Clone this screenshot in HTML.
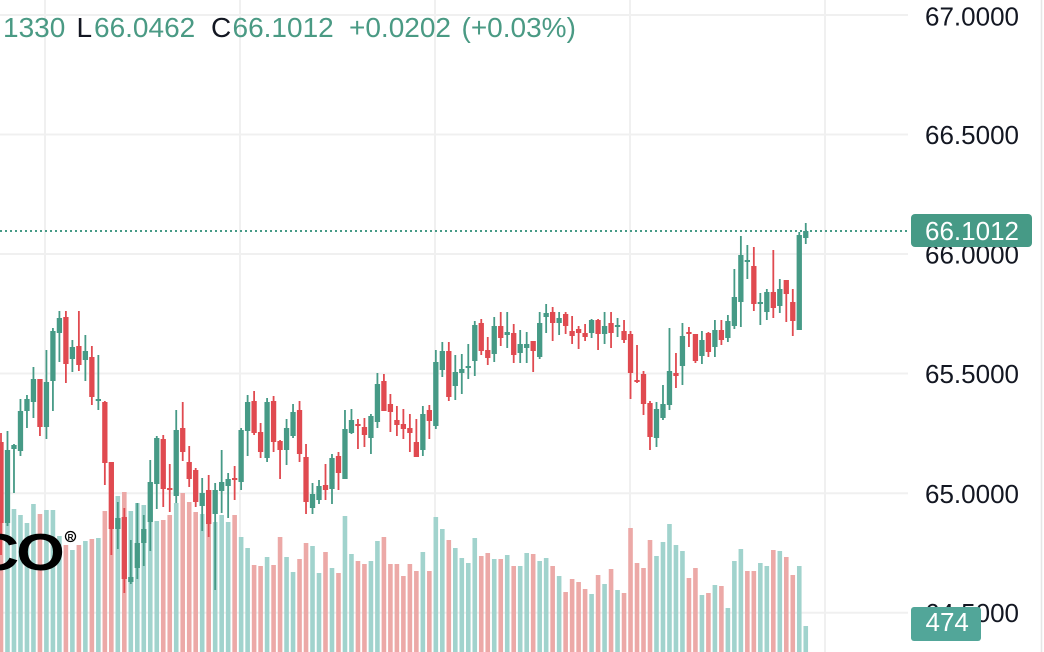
<!DOCTYPE html>
<html>
<head>
<meta charset="utf-8">
<style>
  html,body{margin:0;padding:0;background:#fff;}
  body{width:1044px;height:652px;overflow:hidden;}
  svg{display:block;}
  text{font-family:"Liberation Sans",Arial,sans-serif;}
</style>
</head>
<body>
<svg width="1044" height="652" viewBox="0 0 1044 652" xmlns="http://www.w3.org/2000/svg">
  <rect x="0" y="0" width="1044" height="652" fill="#ffffff"/>

  <!-- grid -->
  <g stroke="#f0f0f0" stroke-width="2">
    <path d="M45 0V652M240 0V652M435 0V652M630 0V652M825 0V652"/>
    <path d="M0 15H908M0 134.5H908M0 254H908M0 373.5H908M0 493.3H908M0 612.7H908"/>
  </g>
  <!-- axis border -->
  <path d="M1041.5 0V652" stroke="#e6e6e6" stroke-width="1.5"/>

  <!-- volume -->
  <path fill="none" stroke="#a1d3cd" stroke-width="4.6" d="M7.49 503V652M13.98 509V652M20.47 515V652M26.96 523V652M33.45 504V652M46.43 510V652M52.92 510V652M59.41 536V652M72.39 550V652M85.37 541V652M98.35 538V652M117.82 496V652M130.8 511V652M137.29 503V652M143.78 505V652M150.27 515V652M156.76 521V652M176.23 503V652M202.19 514V652M215.17 522V652M221.66 515V652M228.15 522V652M241.13 537V652M247.62 548V652M267.09 557V652M286.56 557V652M293.05 572V652M312.52 546V652M319.01 573V652M331.99 568V652M344.97 516V652M351.46 554V652M370.93 561V652M377.42 541V652M422.85 552V652M435.83 517V652M442.32 529V652M455.3 548V652M461.79 558V652M468.28 563V652M474.77 538V652M494.24 559V652M507.22 555V652M520.2 566V652M526.69 553V652M539.67 561V652M546.16 558V652M559.14 576V652M591.59 594V652M604.57 584V652M617.55 590V652M656.49 556V652M662.98 542V652M669.47 524V652M675.96 545V652M682.45 551V652M701.92 595V652M714.9 585V652M727.88 608V652M734.37 561V652M740.86 549V652M760.33 563V652M766.82 566V652M779.8 551V652M799.27 566V652M805.76 626V652"/>
  <path fill="none" stroke="#eca9a7" stroke-width="4.6" d="M1 512V652M39.94 514V652M65.9 545V652M78.88 545V652M91.86 539V652M104.84 511V652M111.33 500V652M124.31 492V652M163.25 520V652M169.74 515V652M182.72 493V652M189.21 502V652M195.7 512V652M208.68 523V652M234.64 515V652M254.11 565V652M260.6 566V652M273.58 565V652M280.07 537V652M299.54 559V652M306.03 543V652M325.5 552V652M338.48 573V652M357.95 561V652M364.44 564V652M383.91 537V652M390.4 564V652M396.89 564V652M403.38 576V652M409.87 564V652M416.36 571V652M429.34 571V652M448.81 540V652M481.26 556V652M487.75 553V652M500.73 559V652M513.71 566V652M533.18 554V652M552.65 566V652M565.63 592V652M572.12 579V652M578.61 582V652M585.1 589V652M598.08 575V652M611.06 569V652M624.04 593V652M630.53 528V652M637.02 563V652M643.51 568V652M650 540V652M688.94 578V652M695.43 568V652M708.41 593V652M721.39 586V652M747.35 571V652M753.84 571V652M773.31 550V652M786.29 557V652M792.78 575V652"/>

  <!-- last price dotted line -->
  <path d="M0 231H908" stroke="#469a86" stroke-width="2" stroke-dasharray="2 3"/>

  <!-- candles green -->
  <path fill="none" stroke="#469a86" stroke-width="1.8" d="M7.49 431V526M13.98 444V493M20.47 399V456M26.96 395V428M33.45 367V418M46.43 350V439M52.92 328V411M59.41 311V362M72.39 340V372M85.37 335V381M98.35 355V410M117.82 502V549M130.8 540V584M137.29 503V579M143.78 515V566M150.27 460V551M156.76 436V509M176.23 410V503M202.19 478V531M215.17 483V590M221.66 450V513M228.15 473V518M241.13 428V490M247.62 395V456M267.09 398V462M286.56 419V465M293.05 404V438M312.52 483V514M319.01 480V504M331.99 454V504M344.97 410V479M351.46 409V434M370.93 414V454M377.42 373V428M422.85 406V456M435.83 350V429M442.32 342V377M455.3 355V400M461.79 354V394M468.28 344V379M474.77 321V376M494.24 317V362M507.22 312V348M520.2 330V363M526.69 332V363M539.67 312V359M546.16 304V333M559.14 312V335M591.59 319V338M604.57 312V344M617.55 318V337M656.49 402V447M662.98 385V420M669.47 328V410M682.45 323V385M701.92 331V364M714.9 320V357M727.88 315V342M734.37 269V329M740.86 236V327M747.35 245V279M760.33 293V325M766.82 289V320M779.8 279V313M799.27 232V330M805.76 223V244"/>
  <path fill="none" stroke="#469a86" stroke-width="5.3" d="M7.49 450V523M13.98 445V449M20.47 411V451M26.96 399V411M33.45 379V402M46.43 382V427M52.92 331V381M59.41 318V333M72.39 347V359M85.37 351V360M98.35 399V401M117.82 518V529M130.8 577V582M137.29 543V568M143.78 529V543M150.27 482V522M156.76 438V484M176.23 430V496M202.19 493V506M215.17 490V514M221.66 482V491M228.15 479V486M241.13 430V482M247.62 402V431M267.09 402V458M286.56 428V450M293.05 412V436M312.52 494V508M319.01 486V500M331.99 458V489M344.97 429V479M351.46 420V433M370.93 416V438M377.42 384V422M422.85 414V450M435.83 362V426M442.32 351V370M455.3 372V386M461.79 369V373M468.28 366V368M474.77 325V361M494.24 326V354M507.22 332V335M520.2 344V353M526.69 344V348M539.67 323V357M546.16 313V317M559.14 318V323M591.59 320V333M604.57 326V334M617.55 325V327M656.49 409V438M662.98 404V418M669.47 371V405M682.45 336V366M701.92 340V356M714.9 330V347M727.88 321V338M734.37 297V326M740.86 255V302M747.35 260V262M760.33 302V304M766.82 292V312M779.8 289V306M799.27 235V330M805.76 231V238"/>

  <!-- candles red -->
  <path fill="none" stroke="#e04a50" stroke-width="1.8" d="M1 433V555M39.94 379V436M65.9 311V383M78.88 311V371M91.86 346V405M104.84 401V485M111.33 462V555M124.31 508V593M163.25 435V507M169.74 464V512M182.72 402V461M189.21 446V487M195.7 468V507M208.68 475V537M234.64 466V500M254.11 391V435M260.6 423V458M273.58 396V452M280.07 440V479M299.54 401V462M306.03 444V514M325.5 464V500M338.48 452V490M357.95 419V449M364.44 418V447M383.91 374V411M390.4 394V432M396.89 406V436M403.38 409V439M409.87 414V452M416.36 419V457M429.34 405V439M448.81 342V401M481.26 319V355M487.75 337V365M500.73 312V346M513.71 324V363M533.18 341V372M552.65 307V341M565.63 312V334M572.12 316V344M578.61 326V349M585.1 324V341M598.08 319V350M611.06 312V348M624.04 320V343M630.53 331V399M637.02 345V383M643.51 371V415M650 401V450M675.96 353V388M688.94 327V347M695.43 334V363M708.41 332V357M721.39 320V345M753.84 247V311M773.31 250V318M786.29 280V322M792.78 289V336"/>
  <path fill="none" stroke="#e04a50" stroke-width="5.3" d="M1 442V523M39.94 379V427M65.9 317V364M78.88 346V365M91.86 357V397M104.84 402V463M111.33 462V529M124.31 517V579M163.25 439V489M169.74 488V490M182.72 428V452M189.21 462V479M195.7 470V502M208.68 490V524M234.64 478V480M254.11 401V433M260.6 432V452M273.58 401V442M280.07 441V450M299.54 410V454M306.03 457V502M325.5 485V490M338.48 456V473M357.95 424V426M364.44 427V435M383.91 381V411M390.4 404V412M396.89 420V425M403.38 424V429M409.87 428V433M416.36 442V457M429.34 410V421M448.81 351V397M481.26 323V351M487.75 350V358M500.73 326V338M513.71 333V355M533.18 341V351M552.65 312V323M565.63 314V326M572.12 331V336M578.61 329V333M585.1 333V337M598.08 320V334M611.06 323V333M624.04 331V340M630.53 334V373M637.02 380V382M643.51 374V404M650 403V437M675.96 373V376M688.94 332V334M695.43 334V361M708.41 333V352M721.39 330V340M753.84 266V304M773.31 292V308M786.29 280V294M792.78 302V321"/>

  <!-- logo -->
  <g fill="#000000" font-weight="bold" font-size="52">
    <text transform="translate(-26,570) scale(1.2,1)">C</text>
    <text transform="translate(16.2,570) scale(1.2,1)">O</text>
  </g>
  <circle cx="70.5" cy="536.5" r="5" fill="#ffffff" stroke="#000" stroke-width="1.3"/>
  <text x="67.6" y="540" font-size="8" font-weight="bold" fill="#000">R</text>

  <!-- header legend -->
  <g font-size="28">
    <text x="3" y="37" fill="#4a9a84">1330</text>
    <text x="76.5" y="37" fill="#131722">L</text>
    <text x="94" y="37" fill="#4a9a84">66.0462</text>
    <text x="211" y="37" fill="#131722">C</text>
    <text x="232.5" y="37" fill="#4a9a84">66.1012</text>
    <text x="349" y="37" fill="#4a9a84">+0.0202</text>
    <text x="461.5" y="37" fill="#4a9a84">(+0.03%)</text>
  </g>

  <!-- price axis labels -->
  <g font-size="26" fill="#131722">
    <text x="925" y="25.5">67.0000</text>
    <text x="925" y="144">66.5000</text>
    <text x="925" y="263.5">66.0000</text>
    <text x="925" y="383">65.5000</text>
    <text x="925" y="503">65.0000</text>
    <text x="925" y="622">64.5000</text>
  </g>

  <!-- last price label -->
  <rect x="911" y="214" width="121" height="33" rx="4" ry="4" fill="#469a86"/>
  <text x="925" y="240" font-size="26" fill="#ffffff">66.1012</text>

  <!-- volume label -->
  <rect x="911" y="607" width="70" height="34" rx="3" ry="3" fill="#52a699"/>
  <text x="925.5" y="631" font-size="26" fill="#ffffff">474</text>
</svg>
</body>
</html>
